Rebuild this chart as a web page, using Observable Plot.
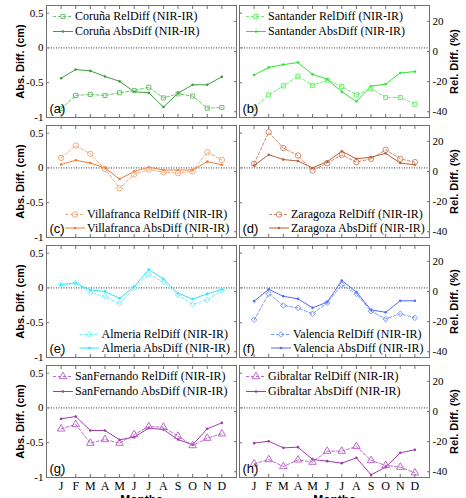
<!DOCTYPE html>
<html><head><meta charset="utf-8">
<script src="https://cdn.jsdelivr.net/npm/d3@7"></script>
<script src="https://cdn.jsdelivr.net/npm/@observablehq/plot@0.6"></script>
<style>
body{margin:0;background:#fff;}
#chart{position:relative;width:466px;height:498px;overflow:hidden;background:#fff;}
#chart svg{position:absolute;overflow:visible;}
</style></head><body><div id="chart"></div>
<script>
const months = ["J","F","M","A","M","J","J","A","S","O","N","D"];
const stations = ["Coruña","Santander","Villafranca","Zaragoza","Almeria","Valencia","SanFernando","Gibraltar"];
const letters = ["(a)","(b)","(c)","(d)","(e)","(f)","(g)","(h)"];
const absTicks = [-1, -0.5, 0, 0.5];
const relTicks = [-40, -20, 0, 20];

// Relative differences (%), right axis
const corunaRel      = [-38.0, -29.2, -28.5, -29.2, -27.4, -25.9, -23.7, -30.8, -28.1, -29.6, -37.6, -37.2];
const santanderRel   = [-37.4, -28.8, -22.8, -16.4, -22.4, -19.0, -23.2, -28.8, -24.6, -30.5, -30.5, -35.0];
const villafrancaRel = [9.0, 17.2, 11.7, 1.7, -11.1, -2.0, 1.3, -0.5, -1.1, 0.2, 12.8, 7.7];
const zaragozaRel    = [5.1, 26.1, 15.5, 10.6, 0.6, 5.5, 11.0, 6.2, 8.4, 14.4, 8.4, 6.2];
const almeriaRel     = [4.6, 5.7, -0.9, -3.3, -8.2, 2.4, 11.3, 6.2, -2.2, -8.6, -5.5, 0.6];
const valenciaRel    = [-18.8, -1.6, -9.3, -10.9, -14.8, -7.5, 4.4, -1.6, -13.1, -18.2, -14.8, -17.5];
const sanfernandoRel = [-11.5, -8.6, -21.0, -18.6, -21.0, -15.3, -10.0, -10.4, -16.4, -22.6, -17.7, -14.8];
const gibraltarRel   = [-34.7, -31.9, -36.5, -32.1, -33.6, -26.3, -26.3, -23.2, -32.5, -35.8, -36.9, -40.7];

// Absolute differences (cm), left axis
const corunaAbs      = [-0.435, -0.31, -0.33, -0.41, -0.48, -0.63, -0.645, -0.85, -0.65, -0.53, -0.53, -0.415];
const santanderAbs   = [-0.39, -0.28, -0.24, -0.21, -0.38, -0.45, -0.63, -0.77, -0.55, -0.52, -0.36, -0.34];
const villafrancaAbs = [0.05, 0.11, 0.07, 0.0, -0.16, -0.05, 0.01, -0.03, -0.03, -0.03, 0.09, 0.045];
const zaragozaAbs    = [0.035, 0.19, 0.12, 0.10, 0.0, 0.09, 0.24, 0.13, 0.155, 0.21, 0.07, 0.045];
const almeriaAbs     = [0.045, 0.07, -0.03, -0.05, -0.15, 0.02, 0.265, 0.13, -0.075, -0.16, -0.085, -0.02];
const valenciaAbs    = [-0.19, -0.02, -0.12, -0.157, -0.286, -0.205, 0.107, -0.06, -0.315, -0.35, -0.185, -0.185];
const sanfernandoAbs = [-0.157, -0.123, -0.324, -0.324, -0.459, -0.42, -0.29, -0.31, -0.454, -0.53, -0.30, -0.214];
const gibraltarAbs   = [-0.506, -0.478, -0.574, -0.564, -0.741, -0.765, -0.794, -0.717, -0.962, -0.851, -0.645, -0.602];

const relSeries = [corunaRel, santanderRel, villafrancaRel, zaragozaRel, almeriaRel, valenciaRel, sanfernandoRel, gibraltarRel];
const absSeries = [corunaAbs, santanderAbs, villafrancaAbs, zaragozaAbs, almeriaAbs, valenciaAbs, sanfernandoAbs, gibraltarAbs];

const relColors = ["#62be62", "#5cee5c", "#f5a06c", "#c97e58", "#5ef0fa", "#6d8df8", "#b35cc0", "#b35cc0"];
const absColors = ["#3a9e3a", "#2ee62e", "#f07d3c", "#b9603a", "#2ee6f5", "#4f6ef0", "#a03aae", "#a03aae"];
const symbols = ["square", "square", "circle", "circle", "diamond2", "diamond2", "triangle", "triangle"];
const symbolR = {square: 2.3, circle: 2.7, diamond2: 2.5, triangle: 2.8};
const d3Symbols = {square: d3.symbolSquare, circle: d3.symbolCircle, diamond2: d3.symbolDiamond2, triangle: d3.symbolTriangle};
const legendTop = [true, true, false, false, false, false, true, true];
const legendBottomOffset = [0, 0, 41, 52, 55.5, 54, 0, 0];

const absDomain = [-1, 0.61];
const relDomain = [-43.8, 30.5];
const relToAbs = d3.scaleLinear().domain(relDomain).range(absDomain);
const monthTicks = d3.range(1, 13);
const axisColor = "#707070";

const chart = document.getElementById("chart");
stations.forEach((name, i) => {
  const col = i % 2, row = Math.floor(i / 2), last = row === 3;
  const W = col === 0 ? 237 : 229, L = col === 0 ? 0 : 237;
  const mL = col === 0 ? 46 : 2, mR = col === 0 ? 1 : 37;
  const H = last ? 138 : 120, mT = 5, mB = last ? 21 : 3;
  const data = months.map((m, k) => ({month: k + 1, rel: relSeries[i][k], abs: absSeries[i][k]}));
  const sym = symbols[i];
  const marks = [
    Plot.ruleY([0], {stroke: "#000", strokeWidth: 0.8, strokeDasharray: "1,1.5"}),
    Plot.line(data, {x: "month", y: "abs", stroke: absColors[i], strokeWidth: 1}),
    Plot.dot(data, {x: "month", y: "abs", r: 1.3, fill: absColors[i], stroke: "none"}),
    Plot.line(data, {x: "month", y: d => relToAbs(d.rel), stroke: relColors[i], strokeWidth: 0.9, strokeDasharray: "3,2"}),
    Plot.dot(data, {x: "month", y: d => relToAbs(d.rel), symbol: sym, r: symbolR[sym], stroke: relColors[i], fill: "none", strokeWidth: 0.9}),
    Plot.axisY(absTicks, {anchor: "left", label: null, tickSize: -3, tickPadding: 6, stroke: axisColor, fontSize: 11,
      tickFormat: col === 0 ? (d => String(d)) : (() => "")}),
    Plot.axisY(relTicks.map(v => relToAbs(v)), {anchor: "right", label: null, tickSize: -3, tickPadding: 6, stroke: axisColor, fontSize: 11,
      tickFormat: col === 1 ? (d => String(Math.round(relToAbs.invert(d)))) : (() => "")}),
    Plot.axisX(monthTicks, {anchor: "bottom", label: null, tickSize: -3, tickPadding: 7, stroke: axisColor, fontSize: 12,
      tickFormat: last ? (d => months[d - 1]) : (() => "")}),
    Plot.axisX(monthTicks, {anchor: "top", label: null, tickSize: -3, stroke: axisColor, tickFormat: () => ""}),
    Plot.frame({stroke: axisColor}),
    Plot.text([letters[i]], {frameAnchor: "bottom-left", dx: 3, dy: -5, lineAnchor: "bottom", textAnchor: "start",
      fontFamily: "'Liberation Sans', Arial, sans-serif", fontSize: 13, fill: "#000"})
  ];
  if (col === 0) marks.push(Plot.text(["Abs. Diff. (cm)"], {frameAnchor: "left", rotate: -90, dx: -26,
      textAnchor: "middle", lineAnchor: "middle",
      fontFamily: "'Liberation Sans', Arial, sans-serif", fontWeight: "bold", fontSize: 11, fill: "#000"}));
  if (col === 1) marks.push(Plot.text(["Rel. Diff. (%)"], {frameAnchor: "right", rotate: -90, dx: 25,
      textAnchor: "middle", lineAnchor: "middle",
      fontFamily: "'Liberation Sans', Arial, sans-serif", fontWeight: "bold", fontSize: 11, fill: "#000"}));
  if (last) marks.push(Plot.text(["Months"], {frameAnchor: "bottom", dy: 18, lineAnchor: "top", textAnchor: "middle",
      fontFamily: "'Liberation Sans', Arial, sans-serif", fontWeight: "bold", fontSize: 12, fill: "#000"}));

  const plot = Plot.plot({
    width: W, height: H, marginLeft: mL, marginRight: mR, marginTop: mT, marginBottom: mB,
    x: {domain: [0, 13], label: null},
    y: {domain: absDomain, label: null},
    style: {fontFamily: "'Liberation Serif', 'Times New Roman', serif", fontSize: "11px", background: "transparent", color: "#000", overflow: "visible"},
    marks
  });
  plot.style.left = L + "px";
  plot.style.top = (row * 120) + "px";
  chart.append(plot);

  // legend
  const svg = d3.select(plot);
  const fx = mL, fy = mT, fb = H - mB;
  let textX, rows;
  if (legendTop[i]) { textX = fx + 29; rows = [fy + 11.5, fy + 26.5]; }
  else { textX = fx + legendBottomOffset[i]; rows = [fb - 22.5, fb - 9]; }
  const entries = [
    {label: name + " RelDiff (NIR-IR)", color: relColors[i], dash: "3,2", open: true},
    {label: name + " AbsDiff (NIR-IR)", color: absColors[i], dash: null, open: false}
  ];
  const g = svg.append("g")
    .attr("font-family", "'Liberation Serif', 'Times New Roman', serif")
    .attr("font-size", 12)
    .attr("text-anchor", "start");
  entries.forEach((e, k) => {
    const y = rows[k];
    g.append("line").attr("x1", textX - 22).attr("x2", textX - 2).attr("y1", y).attr("y2", y)
      .attr("stroke", e.color).attr("stroke-width", e.open ? 0.9 : 1).attr("stroke-dasharray", e.dash);
    if (e.open) {
      const rr = symbolR[sym];
      g.append("path").attr("d", d3.symbol(d3Symbols[sym], Math.PI * rr * rr)())
        .attr("transform", `translate(${textX - 12},${y})`)
        .attr("fill", "none").attr("stroke", e.color).attr("stroke-width", 0.9);
    } else {
      g.append("circle").attr("cx", textX - 12).attr("cy", y).attr("r", 1.3).attr("fill", e.color);
    }
    g.append("text").attr("x", textX).attr("y", y).attr("dy", "0.32em")
      .attr("text-anchor", "start").attr("fill", "#000").text(e.label);
  });
});
</script>
</body></html>
